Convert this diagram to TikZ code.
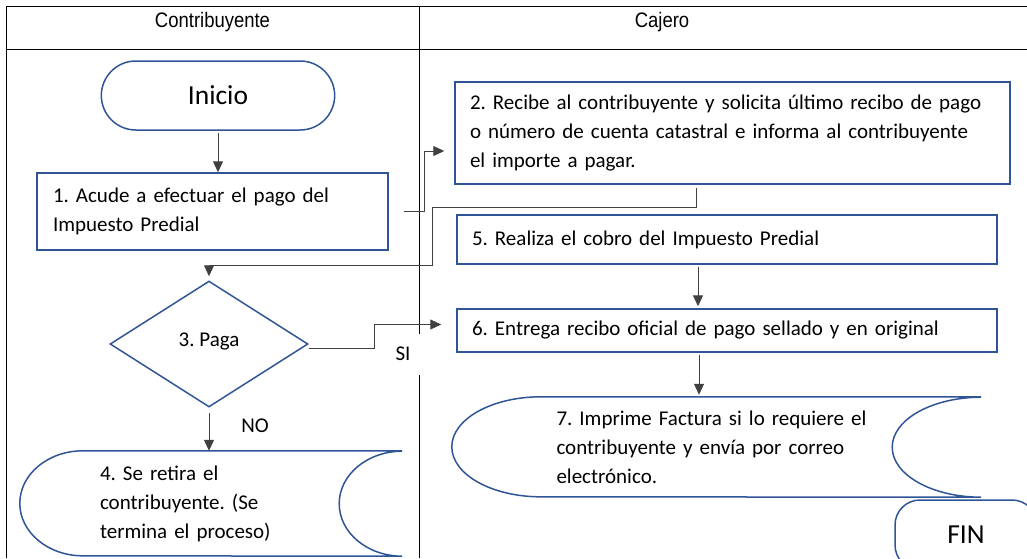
\documentclass[tikz,border=0pt]{standalone}
\usepackage{fontspec}
\setmainfont{Carlito}
\newfontfamily\arial{Liberation Sans}
\usetikzlibrary{arrows.meta,shapes.geometric,shapes.misc,calc}
\definecolor{azul}{RGB}{47,85,151}
\definecolor{gris}{RGB}{64,64,64}
\newcommand{\texto}{\fontsize{21}{29}\selectfont\frenchspacing}
\newcommand{\grande}{\fontsize{27.5}{30}\selectfont}
\newcommand{\angosto}[1]{\scalebox{0.88}[1]{#1}}
\tikzset{
	tabla/.style={line width=1pt,black},
	encabezado/.style={font=\arial\fontsize{21}{24}\selectfont,inner sep=0pt},
	caja/.style={draw=azul,line width=1.5pt,inner ysep=0pt,align=left,font=\texto},
	almacen/.style={inner ysep=0pt,align=left,font=\texto},
	contorno/.style={draw=azul,line width=1.5pt},
	flecha/.style={gris,line width=1pt,-{Triangle[length=11pt,width=10pt]}},
	etiqueta/.style={font=\texto,inner sep=0pt}
}
\begin{document}
\begin{tikzpicture}[x=1pt,y=1pt]
	\useasboundingbox (0,0) rectangle (1027,-558);
	\clip (0,0) rectangle (1027,-558);
	\draw[tabla] (6,-558)--(6,-6)--(1027,-6);
	\draw[tabla] (6,-49)--(1027,-49);
	\draw[tabla] (419,-6)--(419,-558);
	\node[encabezado] (contrib) at (212.5,-22.5) {\angosto{Contribuyente}};
	\node[encabezado] (cajero) at (662,-22.5) {\angosto{Cajero}};
	\node[rounded rectangle,contorno,minimum width=240pt,minimum height=69pt,font=\grande] (inicio) at (218,-95.5) {Inicio};
	\node[caja,minimum width=351pt,minimum height=77pt,text width=319pt,inner xsep=16pt] (paso1) at (212.5,-211.5) {1. Acude a efectuar el pago del\\Impuesto Predial};
	\node[caja,minimum width=555pt,minimum height=102pt,text width=525pt,inner xsep=15pt] (paso2) at (732.5,-133) {2. Recibe al contribuyente y solicita último recibo de pago\\o número de cuenta catastral e informa al contribuyente\\el importe a pagar.};
	\node[caja,minimum width=540pt,minimum height=49pt,text width=510pt,inner xsep=15pt] (paso5) at (727,-239.5) {5. Realiza el cobro del Impuesto Predial};
	\node[caja,minimum width=540pt,minimum height=43pt,text width=510pt,inner xsep=15pt] (paso6) at (727,-330.5) {6. Entrega recibo oficial de pago sellado y en original};
	\node[diamond,contorno,minimum width=198pt,minimum height=126pt,inner sep=0pt,font=\texto] (decision) at (209,-344) {\raisebox{8pt}{3. Paga}};
	\node[almacen,text width=222pt,inner xsep=80pt,minimum height=105pt] (paso4) at (211,-503.5) {4. Se retira el\\contribuyente. (Se\\termina el proceso)};
	\draw[contorno] (paso4.north east)--([xshift=63pt]paso4.north west) arc[start angle=90,end angle=270,x radius=63pt,y radius=52.5pt]--(paso4.south east) arc[start angle=270,end angle=90,x radius=63pt,y radius=52.5pt];
	\node[almacen,text width=320pt,inner xsep=104.5pt,minimum height=100pt] (paso7) at (716.5,-447) {7. Imprime Factura si lo requiere el\\contribuyente y envía por correo\\electrónico.};
	\draw[contorno] (paso7.north east)--([xshift=89pt]paso7.north west) arc[start angle=90,end angle=270,x radius=89pt,y radius=50pt]--(paso7.south east) arc[start angle=270,end angle=90,x radius=89pt,y radius=50pt];
	\node[contorno,rounded corners=25pt,minimum width=142pt,minimum height=70pt,font=\grande] (fin) at (966,-535) {FIN};
	\draw[flecha] ([yshift=-2pt]inicio.south)--(inicio.south |- paso1.north);
	\draw[flecha] ([xshift=15pt]paso1.east)--++(21,0) |- ([xshift=-10pt,yshift=-18pt]paso2.west);
	\draw[flecha] ([xshift=-36.5pt,yshift=-3pt]paso2.south)--++(0,-20) -| ++(-264,-58) -| ([yshift=4pt]decision.north);
	\draw[flecha] ([xshift=-29pt,yshift=-2pt]paso5.south)--([xshift=-29pt,yshift=2pt]paso6.north);
	\draw[flecha] ([yshift=-4pt]decision.east)--++(66,0) |- ([xshift=-15pt,yshift=6pt]paso6.west);
	\draw[flecha] ([xshift=-28pt,yshift=-2pt]paso6.south)--++(0,-40);
	\draw[flecha] ([yshift=-5pt]decision.south)--(decision.south |- paso4.north);
	\node[etiqueta] (no) at (255,-426) {NO};
	\node[etiqueta,fill=white,minimum width=36pt,minimum height=41pt] (si) at (403,-354) {SI};
\end{tikzpicture}
\end{document}
